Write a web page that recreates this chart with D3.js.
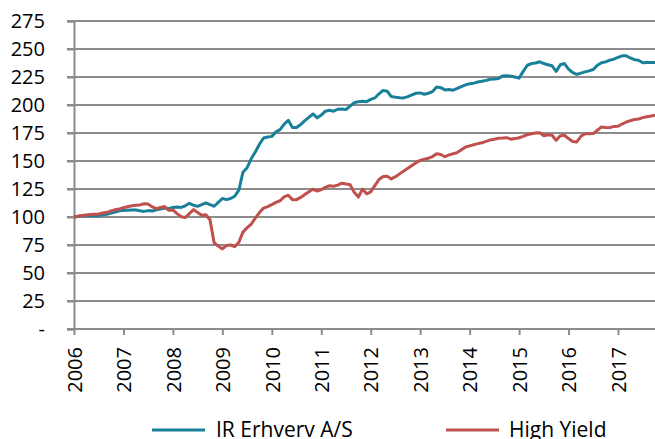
<!DOCTYPE html>
<html>
<head>
<meta charset="utf-8">
<script src="https://cdn.jsdelivr.net/npm/d3@7"></script>
<style>
  body { margin: 0; background: #fff; }
  svg { display: block; }
  text { font-family: "Open Sans", "Liberation Sans", sans-serif; fill: #000; }
</style>
</head>
<body>
<script>
// monthly index values, Jan 2006 .. Oct 2017
var years = ["2006","2007","2008","2009","2010","2011","2012","2013","2014","2015","2016","2017"];
var yTicks = [0, 25, 50, 75, 100, 125, 150, 175, 200, 225, 250, 275];
var seriesNames = ["IR Erhverv A/S", "High Yield"];
var seriesColors = ["#1a809a", "#c0504d"];

var irErhverv = [
  100, 100.5, 101, 101.2, 101.3, 101.2, 101.2, 102, 102.5, 103.5, 104.5, 105.5,
  105.8, 106, 106.2, 106.3, 105.5, 105, 105.7, 105.3, 106.5, 107.2, 108, 107.5,
  108.5, 109, 108.5, 110, 112.2, 110.5, 109.5, 111, 112.6, 111, 109.6, 113,
  116.5, 115.5, 116.5, 118.5, 124, 140, 144, 152, 158, 165, 170.5, 171.4,
  172, 176, 178, 183, 186.3, 180, 180, 182.5, 186, 189, 192, 188.5,
  191, 194.5, 195.3, 194.5, 196.2, 196.5, 196, 199, 202, 203, 203.3, 203,
  205, 206.3, 210, 213, 212.3, 207.5, 207, 206.5, 206.3, 207.5, 209, 210.5,
  210.8, 209.6, 210.5, 212, 216, 215.5, 213.5, 213.8, 213.2, 214.8, 216.5, 218,
  219, 219.5, 220.5, 221.2, 222, 223, 223.3, 223.7, 226, 226.2, 225.7, 225,
  224, 230, 235.5, 237, 237.5, 238.6, 237, 236, 235, 230, 236, 237,
  232, 229, 227.3, 228.5, 229.6, 230.5, 231.7, 235.5, 237.7, 238.5, 240, 241,
  242.5, 243.9, 243.9, 242, 240.5, 240, 237.7, 238, 238, 238
];

var highYield = [
  100, 100.8, 101.3, 101.8, 102.2, 102.5, 102.7, 103.5, 104.2, 105.5, 106.5, 107.2,
  108.3, 109.2, 110, 110.5, 110.8, 111.8, 111.5, 109, 107.5, 108.5, 109.3, 106,
  106.3, 103, 100.3, 99.5, 103, 106.6, 104, 101.5, 102, 97.5, 77, 74,
  71.5, 74.5, 75, 73.5, 77.5, 86.5, 90.5, 93.5, 99, 104, 108, 109.3,
  111, 113, 114.5, 118, 119.5, 115.5, 115.5, 117.5, 120, 122.5, 124.8, 123.2,
  124.5, 126.5, 128, 127.5, 128.5, 130.2, 129.5, 128.8, 122, 117.8, 125, 120.7,
  122.5, 128, 133.5, 136.2, 136.3, 134, 136, 138.5, 141, 143.5, 146, 148.5,
  150.5, 151.5, 152.5, 154, 156.5, 155.8, 153.8, 155.5, 156.5, 157.5, 160, 162.5,
  163.5, 164.5, 165.5, 166.3, 167.5, 168.8, 169.5, 170.3, 170.5, 170.8, 169.5, 170,
  170.8, 172, 173.5, 174.4, 175, 175.3, 172.5, 173.5, 173, 168.5, 172.5, 173,
  170, 167.5, 167, 172, 174.4, 174.4, 174.5, 177.5, 180.3, 180, 179.8, 180.9,
  181, 183, 184.8, 186, 187, 187.5, 188.7, 189.5, 190.1, 190.8
];

var canvasWidth = 655;
var canvasHeight = 439;
var margin = {top: 21, left: 74, bottom: 110};
var plotRight = 655;
var plotBottom = 329;
var gridColor = "#8c8c8c";

var svg = d3.select("body").append("svg")
    .attr("width", canvasWidth)
    .attr("height", canvasHeight);

// x: month index, one year tick every 12 months
var xScale = d3.scaleLinear()
    .domain([0, 132])
    .range([margin.left, 618]);

var yScale = d3.scaleLinear()
    .domain([0, 275])
    .range([plotBottom, margin.top]);

// horizontal gridlines
svg.append("g").selectAll("line")
    .data(yTicks.filter(function(d) { return d > 0; }))
    .enter().append("line")
    .attr("x1", margin.left - 7)
    .attr("x2", plotRight)
    .attr("y1", function(d) { return yScale(d); })
    .attr("y2", function(d) { return yScale(d); })
    .attr("stroke", gridColor)
    .attr("stroke-width", 2);

// y axis
var yAxis = svg.append("g")
    .attr("transform", "translate(" + margin.left + ",0)")
    .call(d3.axisLeft(yScale)
        .tickValues(yTicks)
        .tickSize(7)
        .tickPadding(22)
        .tickFormat(function(d) { return d === 0 ? "-" : d; }));
yAxis.select(".domain").attr("stroke", gridColor).attr("stroke-width", 2);
yAxis.selectAll(".tick line").attr("stroke", gridColor).attr("stroke-width", 2);
yAxis.selectAll("text")
    .style("font-size", "20px")
    .style("font-family", "'Open Sans', sans-serif")
    .attr("fill", "#000");

// x axis with year ticks
var xAxis = svg.append("g")
    .attr("transform", "translate(0," + plotBottom + ")")
    .call(d3.axisBottom(xScale)
        .tickValues(d3.range(years.length).map(function(i) { return i * 12; }))
        .tickSize(6)
        .tickSizeOuter(0)
        .tickFormat(function(d) { return years[d / 12]; }));
xAxis.select(".domain")
    .attr("d", "M" + (margin.left - 7) + ",0H" + plotRight)
    .attr("stroke", gridColor)
    .attr("stroke-width", 2);
xAxis.selectAll(".tick line").attr("stroke", gridColor).attr("stroke-width", 2);
xAxis.selectAll("text")
    .attr("transform", "rotate(-90)")
    .attr("x", -18)
    .attr("y", 0)
    .attr("dy", "0.36em")
    .style("text-anchor", "end")
    .style("font-size", "20px")
    .style("font-family", "'Open Sans', sans-serif")
    .attr("fill", "#000");

// series lines
var line = d3.line()
    .x(function(d, i) { return xScale(i); })
    .y(function(d) { return yScale(d); });

var allSeries = [irErhverv, highYield];
svg.append("g").selectAll("path")
    .data(allSeries)
    .enter().append("path")
    .attr("d", line)
    .attr("fill", "none")
    .attr("stroke", function(d, i) { return seriesColors[i]; })
    .attr("stroke-width", 3)
    .attr("stroke-linejoin", "round");

// legend
var legendX = [152, 446];
var legend = svg.append("g").selectAll("g")
    .data(seriesNames)
    .enter().append("g")
    .attr("transform", function(d, i) { return "translate(" + legendX[i] + ",430)"; });

legend.append("line")
    .attr("x1", 0)
    .attr("x2", 53)
    .attr("stroke", function(d, i) { return seriesColors[i]; })
    .attr("stroke-width", 3);

legend.append("text")
    .attr("x", function(d, i) { return i === 0 ? 64 : 63; })
    .attr("y", 7)
    .style("font-size", "21px")
    .text(function(d) { return d; });
</script>
</body>
</html>
